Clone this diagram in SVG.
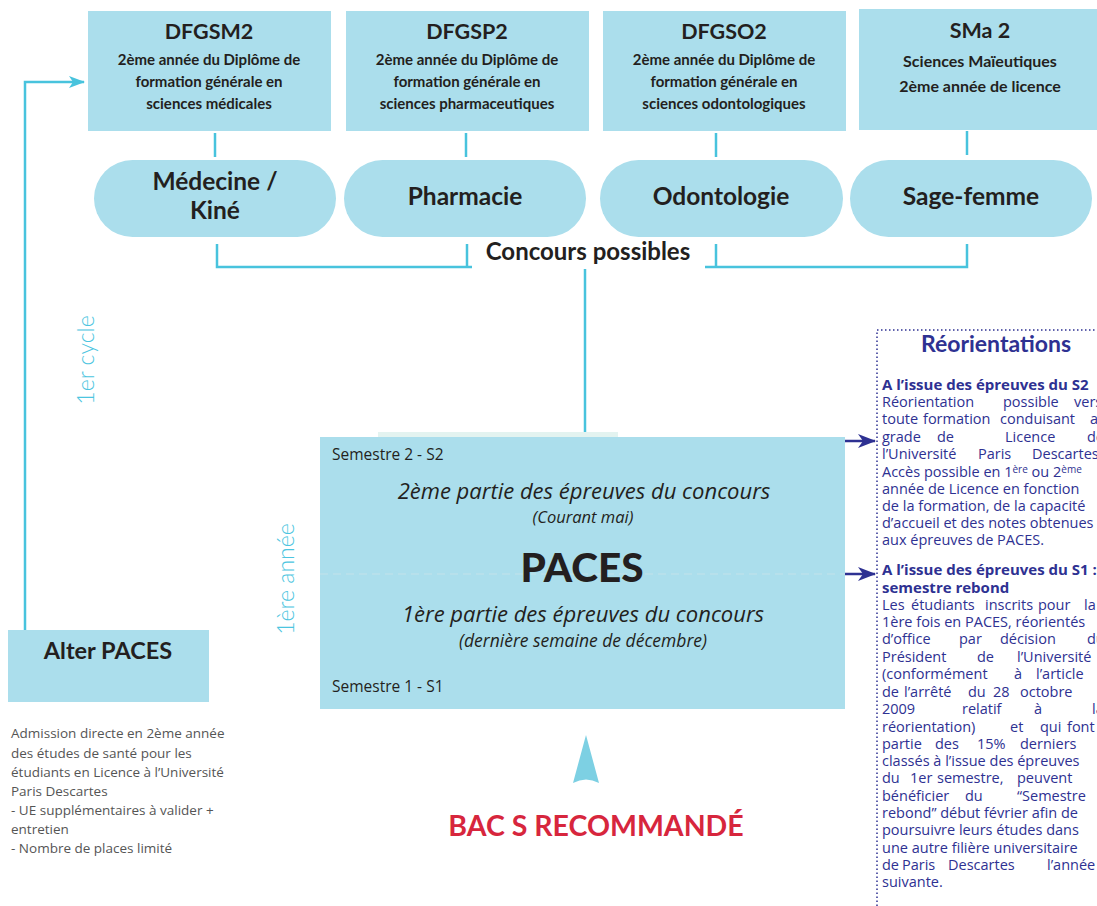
<svg xmlns="http://www.w3.org/2000/svg" width="1097" height="906" viewBox="0 0 1097 906">
<style>
.box{fill:#abdeec}
.conn{stroke:#48c3dd;stroke-width:2.5;fill:none}
.b{font-family:Lato,"Open Sans",sans-serif;font-weight:700;fill:#231f20}
.r{font-family:"Open Sans",Lato,sans-serif;font-weight:400;fill:#231f20}
.i{font-family:"Open Sans",Lato,sans-serif;font-style:italic;font-weight:400;fill:#231f20}
.ttl{font-size:21.5px;text-anchor:middle}
.sub{font-size:15px;text-anchor:middle}
.pill{font-size:24.5px;text-anchor:middle}
.cy{font-family:Lato,"Open Sans",sans-serif;font-weight:300;font-size:23px;fill:#4cc5e0;text-anchor:middle}
.ro{font-family:"Open Sans",Lato,sans-serif;font-size:14.5px;fill:#2e3192}
.rob{font-family:"Open Sans",Lato,sans-serif;font-size:15px;font-weight:700;fill:#2e3192}
.al{font-family:"Open Sans",Lato,sans-serif;font-size:13.5px;fill:#555}
.sup{font-size:10px}
</style>
<defs>
<marker id="arrC" markerWidth="16" markerHeight="12" refX="15" refY="6" orient="auto" markerUnits="userSpaceOnUse">
<path d="M0,0 L16,6 L0,12 L4,6 Z" fill="#48c3dd"/>
</marker>
<marker id="arrB" markerWidth="18" markerHeight="14" refX="17" refY="7" orient="auto" markerUnits="userSpaceOnUse">
<path d="M0,0 L18,7 L0,14 L5,7 Z" fill="#2e3192"/>
</marker>
</defs>

<g id="connectors">
<line class="conn" x1="215" y1="133" x2="215" y2="157"/>
<line class="conn" x1="466" y1="133" x2="466" y2="157"/>
<line class="conn" x1="716" y1="133" x2="716" y2="157"/>
<line class="conn" x1="967" y1="131" x2="967" y2="155"/>
<polyline class="conn" points="217,244 217,267 472,267"/>
<line class="conn" x1="467" y1="244" x2="467" y2="267"/>
<polyline class="conn" points="705,267 967,267 967,244"/>
<line class="conn" x1="716" y1="244" x2="716" y2="267"/>
<line class="conn" x1="585" y1="269" x2="585" y2="440"/>
<polyline class="conn" points="25,630 25,82 84,82" marker-end="url(#arrC)"/>
<line x1="842" y1="441" x2="875" y2="441" stroke="#2e3192" stroke-width="2.5" marker-end="url(#arrB)"/>
<line x1="842" y1="574" x2="875" y2="574" stroke="#2e3192" stroke-width="2.5" marker-end="url(#arrB)"/>
</g>

<g id="dfgsm2">
<rect class="box" x="88" y="11" width="243" height="120"/>
<text class="b ttl" x="209" y="39">DFGSM2</text>
<text class="b sub" x="209" y="65">2ème année du Diplôme de</text>
<text class="b sub" x="209" y="87">formation générale en</text>
<text class="b sub" x="209" y="109">sciences médicales</text>
</g>
<g id="dfgsp2">
<rect class="box" x="346" y="11" width="243" height="120"/>
<text class="b ttl" x="467" y="39">DFGSP2</text>
<text class="b sub" x="467" y="65">2ème année du Diplôme de</text>
<text class="b sub" x="467" y="87">formation générale en</text>
<text class="b sub" x="467" y="109">sciences pharmaceutiques</text>
</g>
<g id="dfgso2">
<rect class="box" x="603" y="11" width="243" height="120"/>
<text class="b ttl" x="724" y="39">DFGSO2</text>
<text class="b sub" x="724" y="65">2ème année du Diplôme de</text>
<text class="b sub" x="724" y="87">formation générale en</text>
<text class="b sub" x="724" y="109">sciences odontologiques</text>
</g>
<g id="sma2">
<rect class="box" x="859" y="9" width="250" height="121"/>
<text class="b ttl" x="980" y="38">SMa 2</text>
<text class="b sub" x="980" y="67" style="font-size:16px">Sciences Maïeutiques</text>
<text class="b sub" x="980" y="92" style="font-size:16px">2ème année de licence</text>
</g>

<g id="medecine">
<rect class="box" x="94" y="160" width="242" height="77" rx="38.5"/>
<text class="b pill" x="215" y="190">Médecine /</text>
<text class="b pill" x="215" y="219">Kiné</text>
</g>
<g id="pharmacie">
<rect class="box" x="344" y="160" width="242" height="77" rx="38.5"/>
<text class="b pill" x="465" y="205">Pharmacie</text>
</g>
<g id="odontologie">
<rect class="box" x="600" y="160" width="243" height="77" rx="38.5"/>
<text class="b pill" x="721" y="205">Odontologie</text>
</g>
<g id="sagefemme">
<rect class="box" x="850" y="160" width="242" height="77" rx="38.5"/>
<text class="b pill" x="971" y="205">Sage-femme</text>
</g>

<g id="concours">
<text class="b" x="588" y="260" style="font-size:24px;text-anchor:middle">Concours possibles</text>
</g>

<g id="cycle-labels">
<text class="cy" transform="translate(94,360) rotate(-90)">1er cycle</text>
<text class="cy" transform="translate(294,579) rotate(-90)">1ère année</text>
</g>

<g id="paces">
<rect x="378" y="432" width="240" height="6" fill="#e3f3f0"/>
<rect class="box" x="320" y="437" width="525" height="272"/>
<line x1="320" y1="574" x2="845" y2="574" stroke="#c4e2ea" stroke-width="1.2" stroke-dasharray="8 5"/>
<text class="r" x="332" y="460" style="font-size:15.5px">Semestre 2 - S2</text>
<text class="i" x="584" y="499" style="font-size:22px;text-anchor:middle">2ème partie des épreuves du concours</text>
<text class="i" x="583" y="523" style="font-size:16.5px;text-anchor:middle">(Courant mai)</text>
<text class="b" x="582" y="582" style="font-size:40.5px;text-anchor:middle;font-weight:900">PACES</text>
<text class="i" x="583" y="622" style="font-size:22px;text-anchor:middle">1ère partie des épreuves du concours</text>
<text class="i" x="583" y="647" style="font-size:17.5px;text-anchor:middle">(dernière semaine de décembre)</text>
<text class="r" x="332" y="692" style="font-size:15.5px">Semestre 1 - S1</text>
</g>

<g id="alter-paces">
<rect class="box" x="8" y="630" width="201" height="72"/>
<text class="b" x="108" y="659" style="font-size:23.5px;text-anchor:middle">Alter PACES</text>
<text class="al" x="11" y="738">Admission directe en 2ème année</text>
<text class="al" x="11" y="758">des études de santé pour les</text>
<text class="al" x="11" y="777">étudiants en Licence à l’Université</text>
<text class="al" x="11" y="796">Paris Descartes</text>
<text class="al" x="11" y="815">- UE supplémentaires à valider +</text>
<text class="al" x="11" y="834">entretien</text>
<text class="al" x="11" y="853">- Nombre de places limité</text>
</g>

<g id="bac">
<path d="M586,735 L599,783 Q586,776 573,783 Z" fill="#7dd0e3"/>
<text class="b" x="596" y="836" style="font-size:28.5px;text-anchor:middle;fill:#d7263d">BAC S RECOMMANDÉ</text>
</g>

<g id="reorientations">
<rect x="877" y="330" width="260" height="600" fill="none" stroke="#2e3192" stroke-width="1.5" stroke-dasharray="1.5 2.5"/>
<text class="b" x="996" y="352" style="font-size:23px;text-anchor:middle;fill:#2e3192">Réorientations</text>
<text class="rob" x="882" y="390">A l’issue des épreuves du S2</text>
<text class="ro" y="407"><tspan x="882">Réorientation</tspan><tspan x="1003">possible</tspan><tspan x="1074">vers</tspan></text>
<text class="ro" y="424"><tspan x="882">toute</tspan><tspan x="923">formation</tspan><tspan x="1000">conduisant</tspan><tspan x="1090">au</tspan></text>
<text class="ro" y="442"><tspan x="882">grade</tspan><tspan x="937">de</tspan><tspan x="1005">Licence</tspan><tspan x="1087">de</tspan></text>
<text class="ro" y="459"><tspan x="882">l’Université</tspan><tspan x="978">Paris</tspan><tspan x="1032">Descartes.</tspan></text>
<text class="ro" x="882" y="477">Accès possible en 1<tspan class="sup" dy="-4">ère</tspan><tspan dy="4"> ou 2</tspan><tspan class="sup" dy="-4">ème</tspan></text>
<text class="ro" x="882" y="494">année de Licence en fonction</text>
<text class="ro" x="882" y="511">de la formation, de la capacité</text>
<text class="ro" x="882" y="528">d’accueil et des notes obtenues</text>
<text class="ro" x="882" y="545">aux épreuves de PACES.</text>

<text class="rob" x="882" y="575">A l’issue des épreuves du S1 :</text>
<text class="rob" x="882" y="593">semestre rebond</text>
<text class="ro" y="610"><tspan x="882">Les</tspan><tspan x="911">étudiants</tspan><tspan x="985">inscrits</tspan><tspan x="1038">pour</tspan><tspan x="1084">la</tspan></text>
<text class="ro" x="882" y="627">1ère fois en PACES, réorientés</text>
<text class="ro" y="644"><tspan x="882">d’office</tspan><tspan x="959">par</tspan><tspan x="1000">décision</tspan><tspan x="1087">du</tspan></text>
<text class="ro" y="662"><tspan x="882">Président</tspan><tspan x="977">de</tspan><tspan x="1017">l’Université</tspan></text>
<text class="ro" y="679"><tspan x="882">(conformément</tspan><tspan x="1014">à</tspan><tspan x="1036">l’article</tspan></text>
<text class="ro" y="697"><tspan x="882">de</tspan><tspan x="904">l’arrêté</tspan><tspan x="968">du</tspan><tspan x="993">28</tspan><tspan x="1020">octobre</tspan></text>
<text class="ro" y="714"><tspan x="882">2009</tspan><tspan x="962">relatif</tspan><tspan x="1034">à</tspan><tspan x="1092">la</tspan></text>
<text class="ro" y="732"><tspan x="882">réorientation)</tspan><tspan x="1010">et</tspan><tspan x="1040">qui</tspan><tspan x="1067">font</tspan></text>
<text class="ro" y="749"><tspan x="882">partie</tspan><tspan x="935">des</tspan><tspan x="977">15%</tspan><tspan x="1020">derniers</tspan></text>
<text class="ro" x="882" y="766">classés à l’issue des épreuves</text>
<text class="ro" y="783"><tspan x="882">du</tspan><tspan x="910">1er</tspan><tspan x="937">semestre,</tspan><tspan x="1017">peuvent</tspan></text>
<text class="ro" y="801"><tspan x="882">bénéficier</tspan><tspan x="965">du</tspan><tspan x="1017">“Semestre</tspan></text>
<text class="ro" x="882" y="818">rebond” début février afin de</text>
<text class="ro" x="882" y="835">poursuivre leurs études dans</text>
<text class="ro" x="882" y="853">une autre filière universitaire</text>
<text class="ro" y="870"><tspan x="882">de</tspan><tspan x="902">Paris</tspan><tspan x="948">Descartes</tspan><tspan x="1047">l’année</tspan></text>
<text class="ro" x="882" y="887">suivante.</text>
</g>
</svg>
